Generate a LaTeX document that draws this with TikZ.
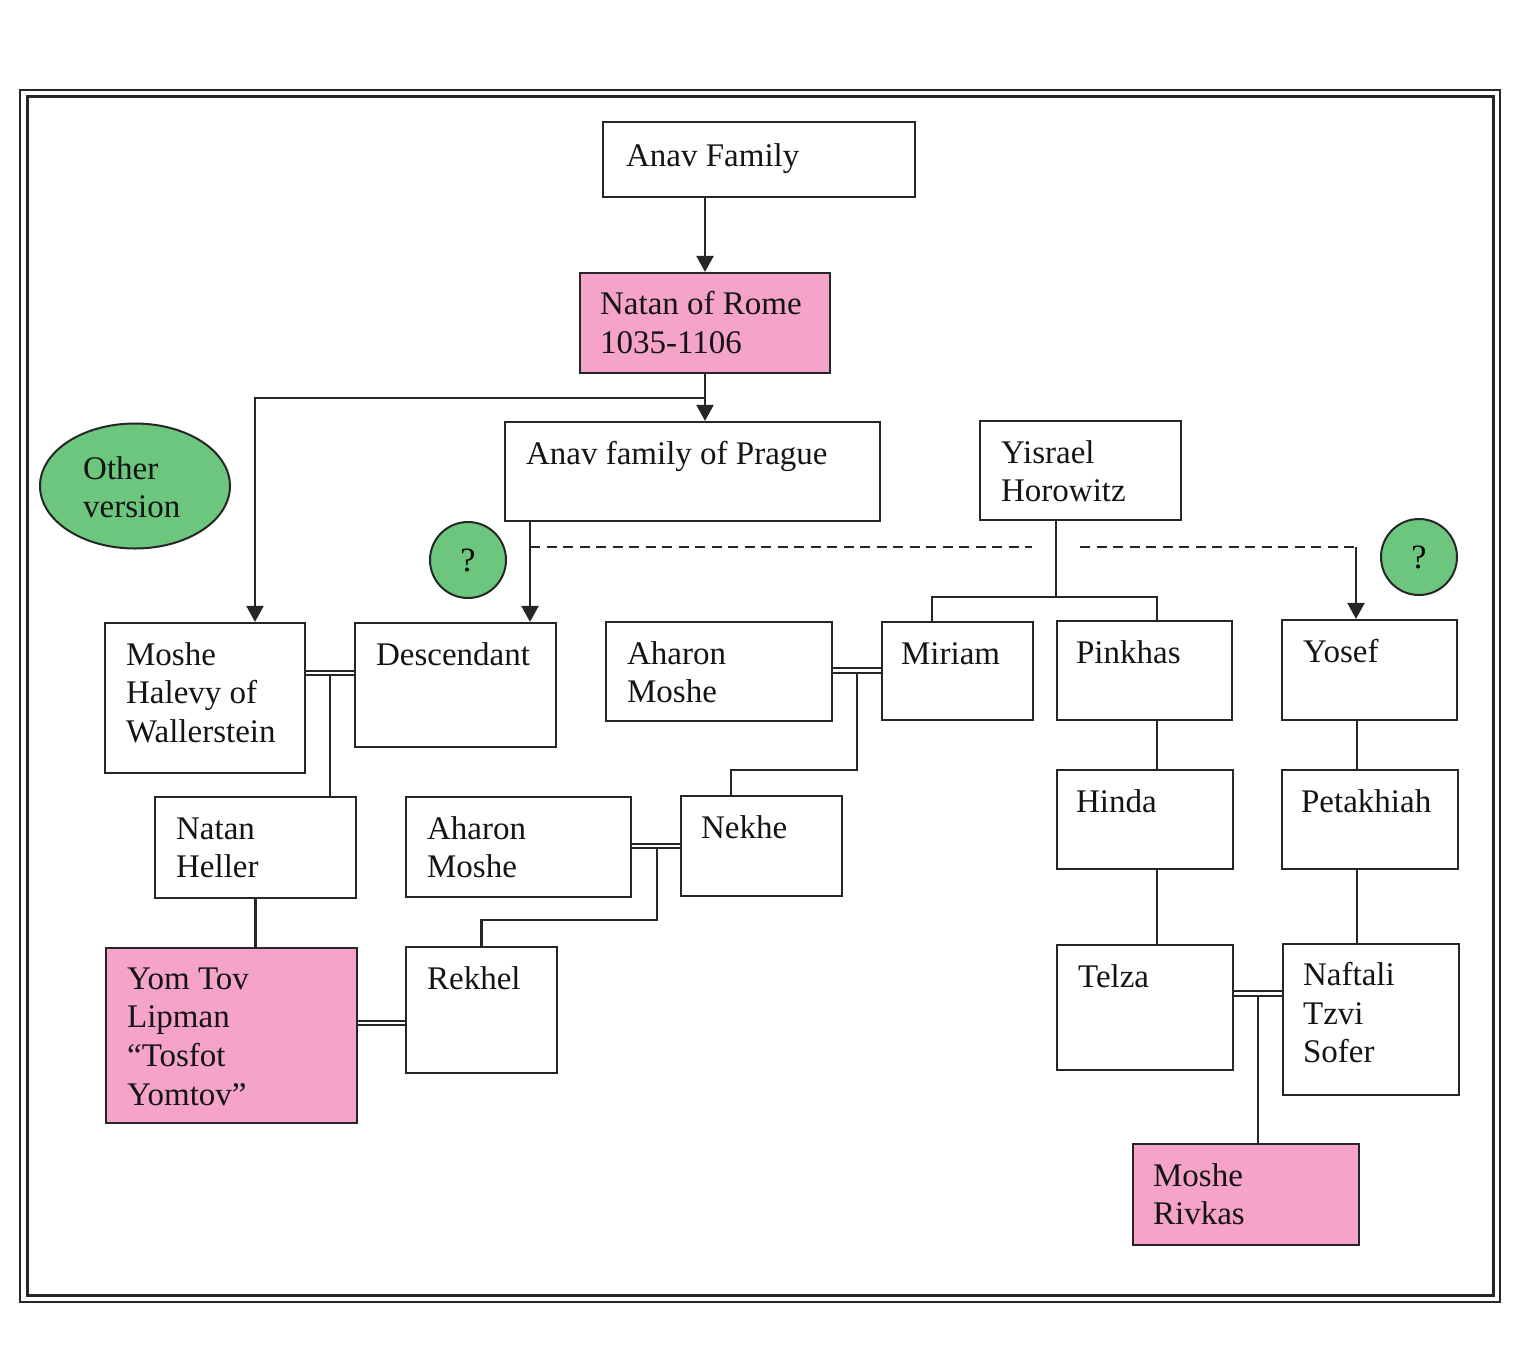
\documentclass[tikz,border=0pt]{standalone}
\usepackage{fontspec}
\setmainfont{Liberation Serif}
\usetikzlibrary{fit,shapes.geometric,arrows.meta}
\definecolor{lc}{HTML}{262626}
\definecolor{pinkfill}{HTML}{F5A3C8}
\definecolor{greenfill}{HTML}{6CC67E}
\newcommand\mystrut{\rule{0pt}{23pt}}
\begin{document}
\begin{tikzpicture}[x=1pt,y=-1pt,
  box/.style={draw=lc, line width=2.2pt, inner sep=0pt, rectangle},
  pbox/.style={box, fill=pinkfill},
  txt/.style={anchor=north west, inner sep=0pt, align=left, text=black!92, font=\fontsize{33}{38.7}\selectfont},
  conn/.style={draw=lc, line width=2.2pt},
  arr/.style={conn, -{Triangle[width=17pt,length=16pt]}},
  dsh/.style={conn, line width=1.9pt, dash pattern=on 10pt off 6.5pt},
  marr/.style={draw=lc, double=white, double distance=2.8pt, line width=2pt},
  qc/.style={circle, draw=lc, line width=2pt, fill=greenfill, minimum size=76pt, inner sep=0pt, font=\fontsize{34}{38}\selectfont}
]
\useasboundingbox (0,0) rectangle (1536,1360);
% frame
\draw[draw=lc, line width=2.6pt] (20,90) rectangle (1500,1302);
\draw[draw=lc, line width=3pt] (27,96) rectangle (1493,1295);

% boxes
\node[box, fit={(603,122)(915,197)}] (anav) {};
\node[pbox, fit={(580,273)(830,373)}] (rome) {};
\node[box, fit={(505,422)(880,521)}] (prague) {};
\node[box, fit={(980,421)(1181,520)}] (yisrael) {};
\node[box, fit={(105,623)(305,773)}] (moshe) {};
\node[box, fit={(355,623)(556,747)}] (desc) {};
\node[box, fit={(606,622)(832,721)}] (aharonA) {};
\node[box, fit={(882,622)(1033,720)}] (miriam) {};
\node[box, fit={(1057,621)(1232,720)}] (pinkhas) {};
\node[box, fit={(1282,620)(1457,720)}] (yosef) {};
\node[box, fit={(155,797)(356,898)}] (heller) {};
\node[box, fit={(406,797)(631,897)}] (aharonB) {};
\node[box, fit={(681,796)(842,896)}] (nekhe) {};
\node[box, fit={(1057,770)(1233,869)}] (hinda) {};
\node[box, fit={(1282,770)(1458,869)}] (petak) {};
\node[pbox, fit={(106,948)(357,1123)}] (yomtov) {};
\node[box, fit={(406,947)(557,1073)}] (rekhel) {};
\node[box, fit={(1057,945)(1233,1070)}] (telza) {};
\node[box, fit={(1283,944)(1459,1095)}] (naftali) {};
\node[pbox, fit={(1133,1144)(1359,1245)}] (rivkas) {};

% texts
\node[txt] (anavT) at ([shift={(24pt,-22pt)}]anav.north west) {\mystrut Anav Family};
\node[txt] (romeT) at ([shift={(21pt,-19pt)}]rome.north west) {\mystrut Natan of Rome\\1035-1106};
\node[txt] (pragueT) at ([shift={(22pt,-20pt)}]prague.north west) {\mystrut Anav family of Prague};
\node[txt] (yisraelT) at ([shift={(22pt,-20pt)}]yisrael.north west) {\mystrut Yisrael\\Horowitz};
\node[txt] (mosheT) at ([shift={(22pt,-20pt)}]moshe.north west) {\mystrut Moshe\\Halevy of\\Wallerstein};
\node[txt] (descT) at ([shift={(22pt,-20pt)}]desc.north west) {\mystrut Descendant};
\node[txt] (aharonAT) at ([shift={(22pt,-20pt)}]aharonA.north west) {\mystrut Aharon\\Moshe};
\node[txt] (miriamT) at ([shift={(20pt,-20pt)}]miriam.north west) {\mystrut Miriam};
\node[txt] (pinkhasT) at ([shift={(20pt,-20pt)}]pinkhas.north west) {\mystrut Pinkhas};
\node[txt] (yosefT) at ([shift={(22pt,-20pt)}]yosef.north west) {\mystrut Yosef};
\node[txt] (hellerT) at ([shift={(22pt,-20pt)}]heller.north west) {\mystrut Natan\\Heller};
\node[txt] (aharonBT) at ([shift={(22pt,-20pt)}]aharonB.north west) {\mystrut Aharon\\Moshe};
\node[txt] (nekheT) at ([shift={(21pt,-20pt)}]nekhe.north west) {\mystrut Nekhe};
\node[txt] (hindaT) at ([shift={(20pt,-20pt)}]hinda.north west) {\mystrut Hinda};
\node[txt] (petakT) at ([shift={(20pt,-20pt)}]petak.north west) {\mystrut Petakhiah};
\node[txt] (yomtovT) at ([shift={(22pt,-19pt)}]yomtov.north west) {\mystrut Yom Tov\\Lipman\\“Tosfot\\Yomtov”};
\node[txt] (rekhelT) at ([shift={(22pt,-20pt)}]rekhel.north west) {\mystrut Rekhel};
\node[txt] (telzaT) at ([shift={(22pt,-20pt)}]telza.north west) {\mystrut Telza};
\node[txt] (naftaliT) at ([shift={(21pt,-19pt)}]naftali.north west) {\mystrut Naftali\\Tzvi\\Sofer};
\node[txt] (rivkasT) at ([shift={(21pt,-20pt)}]rivkas.north west) {\mystrut Moshe\\Rivkas};

% ellipse and circles
\node[ellipse, draw=lc, line width=2pt, fill=greenfill, minimum width=190pt, minimum height=125pt, inner sep=0pt] (other) at (135,486) {};
\node[txt] (otherT) at (83,456) {\mystrut Other\\version};
\node[qc] (q1) at (468,560) {?};
\node[qc] (q2) at (1419,557) {?};

% named coordinates
\coordinate (rj) at (705,398);
\coordinate (d1) at (530,547);
\coordinate (d2) at (1032,547);
\coordinate (d3) at (1080,547);
\coordinate (d4) at (1356,547);
\coordinate (yj) at (1056,597);
\coordinate (xMo) at (255,0);
\coordinate (xDe) at (530,0);
\coordinate (xMi) at (932,0);
\coordinate (xPi) at (1157,0);
\coordinate (xYo) at (1357,0);
\coordinate (xNe) at (731,0);
\coordinate (m1) at (330,673);
\coordinate (m2) at (857,670.5);
\coordinate (m3) at (657,846);
\coordinate (m4) at (381,1023);
\coordinate (m5) at (1258,993.5);

% connectors
\draw[arr] (rome.north |- anav.south) -- (rome.north);
\draw[arr] (rome.south) -- (rome.south |- prague.north);
\draw[arr] (rj) -| (xMo |- moshe.north);
\draw[arr] (xDe |- prague.south) -- (xDe |- desc.north);
\draw[dsh] (d1) -- (d2);
\draw[dsh] (d3) -- (d4);
\draw[arr] (d4) -- (d4 |- yosef.north);
\draw[conn] (yj |- yisrael.south) -- (yj);
\draw[conn] (xMi |- miriam.north) |- (yj) -| (xPi |- pinkhas.north);

\draw[marr] (moshe.east |- m1) -- (desc.west |- m1);
\draw[conn] ([yshift=-3.4pt]m1) -- (m1 |- heller.north);
\draw[marr] (aharonA.east |- m2) -- (miriam.west |- m2);
\draw[conn] ([yshift=-3.4pt]m2) |- ([yshift=25pt]xNe |- nekhe.north) -- (xNe |- nekhe.north);
\draw[marr] (aharonB.east |- m3) -- (nekhe.west |- m3);
\draw[conn] ([yshift=-3.4pt]m3) |- ([yshift=26pt]rekhel.north) -- (rekhel.north);
\draw[marr] (yomtov.east |- m4) -- (rekhel.west |- m4);
\draw[conn] (heller.south) -- (heller.south |- yomtov.north);

\draw[conn] (xPi |- pinkhas.south) -- (xPi |- hinda.north);
\draw[conn] (xPi |- hinda.south) -- (xPi |- telza.north);
\draw[conn] (xYo |- yosef.south) -- (xYo |- petak.north);
\draw[conn] (xYo |- petak.south) -- (xYo |- naftali.north);
\draw[marr] (telza.east |- m5) -- (naftali.west |- m5);
\draw[conn] ([yshift=-3.4pt]m5) -- (m5 |- rivkas.north);
\end{tikzpicture}
\end{document}
